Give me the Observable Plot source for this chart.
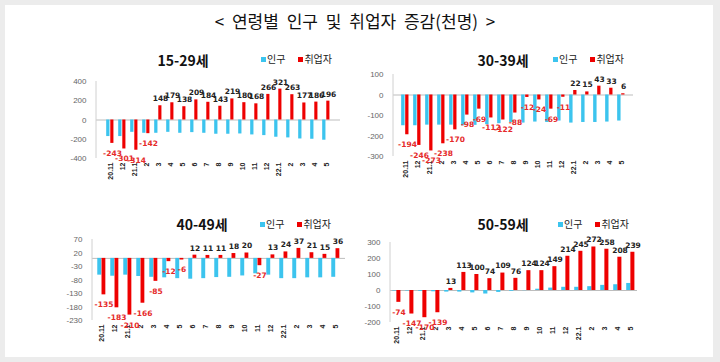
<!DOCTYPE html>
<html><head><meta charset="utf-8">
<script src="https://cdn.jsdelivr.net/npm/d3@7"></script>
<script src="https://cdn.jsdelivr.net/npm/@observablehq/plot@0.6"></script>
<style>
html,body{margin:0;padding:0;}
body{background:#ececec;width:720px;height:362px;overflow:hidden;position:relative;font-family:"Noto Sans CJK KR","Noto Sans",sans-serif;}
#card{position:absolute;left:5px;top:5px;width:708px;height:352px;background:#fff;}
.abs{position:absolute;}
#main{left:0;width:710px;top:9px;text-align:center;font-size:17px;color:#111;word-spacing:4px;line-height:24px;}
.ptitle{font-weight:bold;font-size:14px;color:#111;line-height:18px;transform:translateX(-50%);white-space:nowrap;}
.legend{font-size:10px;color:#222;display:flex;align-items:center;line-height:14px;white-space:nowrap;}
.sw{display:inline-block;width:5px;height:5px;margin-right:1px;}
svg{overflow:visible;}
</style></head>
<body>
<div id="card"></div>
<div id="main" class="abs">&lt; 연령별 인구 및 취업자 증감(천명) &gt;</div>
<script>
const months = ["20.11","12","21.1","2","3","4","5","6","7","8","9","10","11","12","22.1","2","3","4","5"];
const seriesNames = ["인구","취업자"];

const pop1529 = [-172,-172,-128,-138,-138,-128,-138,-131,-138,-148,-148,-145,-155,-162,-179,-186,-197,-200,-210];
const emp1529 = [-243,-301,-314,-142,148,179,138,209,184,143,219,180,168,266,321,263,177,186,196];

const pop3039 = [-150,-150,-147,-147,-147,-150,-148,-145,-140,-134,-137,-132,-134,-127,-137,-134,-134,-132,-127];
const emp3039 = [-194,-246,-273,-238,-170,-98,-69,-112,-122,-88,-12,-24,-69,-11,22,15,43,33,6];

const pop4049 = [-62,-66,-62,-67,-70,-72,-75,-77,-75,-71,-70,-65,-57,-62,-75,-75,-72,-72,-70];
const emp4049 = [-135,-183,-210,-166,-85,-12,-6,12,11,11,18,20,-27,13,24,37,21,15,36];

const pop5059 = [-3,-3,-5,-8,-10,-10,-15,-22,-12,-5,-1,8,15,20,20,24,32,36,44];
const emp5059 = [-74,-147,-170,-139,13,113,100,74,109,76,124,124,149,214,245,272,258,208,239];

const BLUE = "#3cc4ee";
const RED = "#ee0000";
const RED_TXT = "#e52a2a";

const panels = [
  {title:"15-29세", pop:pop1529, emp:emp1529, domain:[-400,400], ticks:[-400,-200,0,200,400],
   left:20, axis:96, right:340, top:81, bottom:158, tx:183, ty:51, lx:261, ly:52},
  {title:"30-39세", pop:pop3039, emp:emp3039, domain:[-300,100], ticks:[-300,-200,-100,0,100],
   left:365, axis:393, right:633, top:74, bottom:156, tx:503, ty:51, lx:553, ly:52},
  {title:"40-49세", pop:pop4049, emp:emp4049, domain:[-230,70], ticks:[-230,-180,-130,-80,-30,20,70],
   left:20, axis:92, right:345, top:239, bottom:320, tx:202, ty:215, lx:260, ly:217},
  {title:"50-59세", pop:pop5059, emp:emp5059, domain:[-200,300], ticks:[-200,-100,0,100,200,300],
   left:365, axis:390, right:637, top:242, bottom:322, tx:503, ty:215, lx:558, ly:217}
];

function addDiv(cls, html, x, y){
  const d = document.createElement("div");
  d.className = "abs " + cls;
  d.innerHTML = html;
  d.style.left = x + "px"; d.style.top = y + "px";
  document.body.appendChild(d);
  return d;
}

for (const p of panels) {
  const rows = months.map((m,i)=>({i, m, pop:p.pop[i], emp:p.emp[i]}));
  const mt = 12, mr = 8, mb = 34;
  const ml = p.axis - p.left;
  const W = p.right + mr - p.left;
  const svgTop = p.top - mt;
  const H = p.bottom + mb - svgTop;
  const bw = (W - ml - mr) / months.length;
  const chart = Plot.plot({
    width: W, height: H,
    marginLeft: ml, marginRight: mr, marginTop: mt, marginBottom: mb,
    style: {background:"transparent", overflow:"visible"},
    x: {type:"band", domain:d3.range(months.length), padding:0, axis:null, label:null},
    y: {domain:p.domain, axis:null, label:null},
    marks: [
      Plot.axisY({ticks:p.ticks, tickSize:0, tickPadding:10, tickFormat:d=>String(d), label:null,
        fontSize:8, fill:"#666", fontFamily:"Liberation Sans, Arial, sans-serif"}),
      Plot.axisX({tickFormat:i=>months[i], tickRotate:-90, tickSize:0, tickPadding:4, label:null,
        fontSize:7, fontWeight:"bold", fill:"#222", fontFamily:"Liberation Sans, Arial, sans-serif"}),
      Plot.ruleY([0], {stroke:"#bdbdbd", strokeWidth:1}),
      Plot.barY(rows, {x:"i", y:"pop", fill:BLUE, insetLeft:bw*0.17, insetRight:bw*0.51}),
      Plot.barY(rows, {x:"i", y:"emp", fill:RED, insetLeft:bw*0.49, insetRight:bw*0.2}),
      Plot.text(rows.filter(d=>d.emp>=0), {x:"i", y:"emp", text:d=>String(d.emp), dy:-7, dx:2,
        fill:"#222", fontWeight:"bold", fontSize:7.5, fontFamily:"DejaVu Sans, sans-serif"}),
      Plot.text(rows.filter(d=>d.emp<0), {x:"i", y:"emp", text:d=>String(d.emp), dy:10, dx:2,
        fill:RED_TXT, fontWeight:"bold", fontSize:7.5, fontFamily:"DejaVu Sans, sans-serif"})
    ]
  });
  d3.select(chart).append("line")
    .attr("x1", ml).attr("x2", ml).attr("y1", mt).attr("y2", H - mb)
    .attr("stroke", "#d0d0d0").attr("stroke-width", 1);
  const wrap = document.createElement("div");
  wrap.className = "abs";
  wrap.style.left = p.left + "px"; wrap.style.top = svgTop + "px";
  wrap.appendChild(chart);
  document.body.appendChild(wrap);

  addDiv("ptitle", p.title, p.tx, p.ty);
  addDiv("legend",
    `<span class="sw" style="background:${BLUE}"></span><span>${seriesNames[0]}</span>` +
    `<span class="sw" style="background:${RED};margin-left:13px"></span><span>${seriesNames[1]}</span>`,
    p.lx, p.ly);
}
</script>
</body></html>
